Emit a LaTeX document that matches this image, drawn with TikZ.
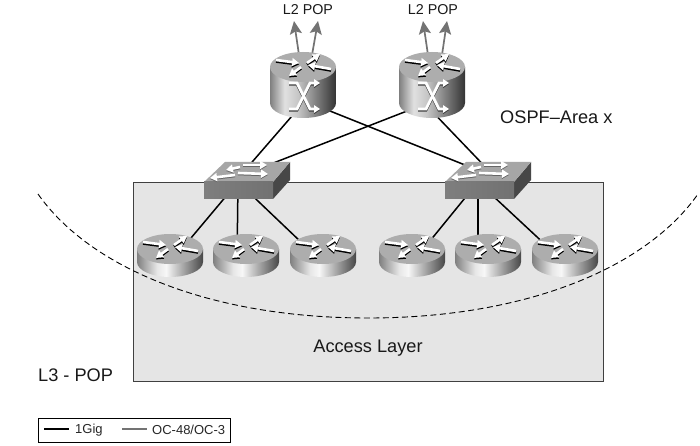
\documentclass[tikz,border=0pt]{standalone}
\usepackage{fontspec}
\setmainfont{Liberation Sans}
\usetikzlibrary{arrows.meta}
\pgfdeclarehorizontalshading{routerbody}{100bp}{
 color(0bp)=(black!50); color(25bp)=(black!50); color(40bp)=(black!10); color(47bp)=(black!3);
 color(60bp)=(black!35); color(75bp)=(black!72); color(100bp)=(black!72)}
\pgfdeclarehorizontalshading{corebody}{100bp}{
 color(0bp)=(black!50); color(25bp)=(black!50); color(36bp)=(black!12); color(46bp)=(black!22);
 color(60bp)=(black!50); color(75bp)=(black!80); color(100bp)=(black!80)}
\pgfdeclarehorizontalshading{switchfront}{100bp}{
 color(0bp)=(black!48); color(100bp)=(black!58)}
\tikzset{
 x=1pt,y=-1pt,
 anchorpt/.style={inner sep=0pt,minimum size=0pt,outer sep=0pt},
 link/.style={line width=1.5pt,black},
 uplink/.style={line width=1.7pt,black!55,-{Stealth[length=13pt,width=12pt,inset=2.5pt]}},
 legendbox/.style={draw=black,line width=.8pt,fill=white},
 whitearrow/.style={line width=2.6pt,white,-{Triangle[length=7pt,width=8pt]}},
 shadowarrow/.style={line width=2.6pt,black,-{Triangle[length=7pt,width=8pt]}},
 label18/.style={inner sep=0pt,font=\fontsize{18.2}{20}\selectfont,text=black!90},
 label14/.style={inner sep=0pt,font=\fontsize{14.3}{16}\selectfont,text=black!90},
 label12/.style={inner sep=0pt,anchor=west,font=\fontsize{13}{15}\selectfont,text=black!85},
}
% crossed-arrows glyph on top of a router, (#1,#2) = centre of the top ellipse
\newcommand{\topglyph}[2]{%
 \begin{scope}[shift={(#1,#2)}]
  \foreach \ax/\ay/\bx/\by in {-27/-7/-4/-4, 4/-4/17/-13, 28/2/5/-2, -2/0/-14/9}{
   \draw[shadowarrow] (\ax,\ay+1.5) -- (\bx,\by+1.5);
   \draw[whitearrow] (\ax,\ay) -- (\bx,\by);
  }
 \end{scope}}
% router cylinder, (#1,#2) = centre of the top ellipse
\newcommand{\accessrouter}[2]{%
 \begin{scope}[shift={(#1,#2)}]
  \shade[shading=routerbody] (-33,0) -- (-33,13)
    arc[start angle=180,end angle=0,x radius=33,y radius=15] -- (33,0) -- cycle;
  \fill[black!32] (0,0) ellipse[x radius=33,y radius=15];
 \end{scope}\topglyph{#1}{#2}}
\newcommand{\corerouter}[2]{%
 \begin{scope}[shift={(#1,#2)}]
  \shade[shading=corebody] (-33,0) -- (-33,36)
    arc[start angle=180,end angle=0,x radius=33,y radius=15] -- (33,0) -- cycle;
  \fill[black!32] (0,0) ellipse[x radius=33,y radius=15];
  \foreach \s/\c in {1.2/black!75, 0/white}{
   \draw[line width=2.8pt,\c,-{Triangle[length=6pt,width=7.5pt]}] (-14,16+\s) -- (-6,16+\s) -- (7,42+\s) -- (17,42+\s);
   \draw[line width=2.8pt,\c,-{Triangle[length=6pt,width=7.5pt]}] (-14,42+\s) -- (-6,42+\s) -- (7,16+\s) -- (17,16+\s);
  }
 \end{scope}\topglyph{#1}{#2}}
% switch, (#1,#2) = centre of the front top edge
\newcommand{\switchicon}[2]{%
 \begin{scope}[shift={(#1,#2)}]
  \fill[black!72] (35,0) -- (52,-20) -- (52,-2) -- (35,17) -- cycle;
  \fill[black!35] (-34,0) -- (-13,-20) -- (52,-20) -- (35,0) -- cycle;
  \shade[shading=switchfront] (-34,0) rectangle (35,17);
  \foreach \ax/\ay/\bx/\by in {2/-15/-12/-12, 5/-17/29/-17, -3/-7/-28/-4, 0/-9/30/-8}{
   \draw[line width=2.6pt,black!60,-{Triangle[length=7pt,width=8pt]}] (\ax,\ay+1) -- (\bx,\by+1);
   \draw[whitearrow] (\ax,\ay) -- (\bx,\by);
  }
 \end{scope}}
\begin{document}
\begin{tikzpicture}
\useasboundingbox (0,0) rectangle (700,446);
\fill[white] (0,0) rectangle (700,446);
% access layer panel
\node[draw=black!75,line width=1pt,fill=black!10,minimum width=470pt,minimum height=199pt,inner sep=0pt,anchor=north west] (panel) at (133,182) {};
% dashed area boundary
\coordinate (arcL) at (38,194);
\coordinate (arcB) at (368,318);
\coordinate (arcR) at (698,194);
\draw[black,line width=.9pt,dash pattern=on 6pt off 3.5pt] (arcL) .. controls (90,268) and (210,318) .. (arcB) .. controls (526,318) and (646,268) .. (arcR);
% anchor nodes
\node[anchorpt] (c1) at (305,101) {};
\node[anchorpt] (c2) at (425,104) {};
\node[anchorpt] (s1u) at (240,176) {};
\node[anchorpt] (s2u) at (495,177) {};
\node[anchorpt] (s1) at (238,182) {};
\node[anchorpt] (s2) at (478,182) {};
\node[anchorpt] (a1) at (170,263) {};
\node[anchorpt] (a2) at (237,263) {};
\node[anchorpt] (a3) at (323,263) {};
\node[anchorpt] (a4) at (412,263) {};
\node[anchorpt] (a5) at (478,263) {};
\node[anchorpt] (a6) at (565,263) {};
% links
\draw[link] (c1) -- (s1u);
\draw[link] (c1) -- (s2u);
\draw[link] (c2) -- (s1u);
\draw[link] (c2) -- (s2u);
\foreach \s/\a in {s1/a1,s1/a2,s1/a3,s2/a4,s2/a5,s2/a6}{\draw[link] (\s) -- (\a);}
% uplinks
\coordinate (u1a) at (294,21); \coordinate (u1b) at (318,21);
\coordinate (u2a) at (423,21); \coordinate (u2b) at (447,21);
\coordinate (f1a) at (299,55); \coordinate (f1b) at (312,55);
\coordinate (f2a) at (428,55); \coordinate (f2b) at (442,55);
\draw[uplink] (f1a) -- (u1a);
\draw[uplink] (f1b) -- (u1b);
\draw[uplink] (f2a) -- (u2a);
\draw[uplink] (f2b) -- (u2b);
% icons
\corerouter{303}{67}
\corerouter{432}{67}
\switchicon{238}{182}
\switchicon{479}{182}
\accessrouter{170}{249}
\accessrouter{246}{249}
\accessrouter{323}{249}
\accessrouter{412}{249}
\accessrouter{488}{249}
\accessrouter{565}{249}
% labels
\node[label14] (l2a) at (308,10) {L2 POP};
\node[label14] (l2b) at (433,10) {L2 POP};
\node[label18,anchor=west] (ospf) at (500,117) {OSPF–Area x};
\node[label18] (acc) at (368,348) {Access Layer};
\node[label18,anchor=west] (l3) at (38,375) {L3 - POP};
% legend
\node[legendbox,minimum width=192pt,minimum height=24pt,inner sep=0pt,anchor=north west] (legend) at (38,418) {};
\coordinate (k1) at (44,429); \coordinate (k2) at (69,429);
\coordinate (k3) at (122,429); \coordinate (k4) at (147,429);
\draw[link] (k1) -- (k2);
\draw[line width=1.1pt,black!55] (k3) -- (k4);
\node[label12] (t1) at (75,430) {1Gig};
\node[label12] (t2) at (152,430) {OC-48/OC-3};
\end{tikzpicture}
\end{document}
